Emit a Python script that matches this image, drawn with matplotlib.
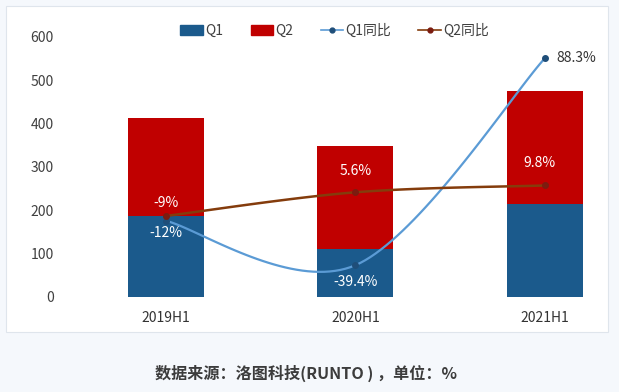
import numpy as np
import matplotlib
matplotlib.use('Agg')
import matplotlib.pyplot as plt
from matplotlib.patches import Rectangle, Patch
from matplotlib.lines import Line2D

plt.rcParams['font.family'] = ['Noto Sans CJK SC', 'DejaVu Sans']

categories = ['2019H1', '2020H1', '2021H1']
q1 = [188, 111, 215]
q2 = [225, 237, 260]
q1_yoy = [-12, -39.4, 88.3]
q2_yoy = [-9, 5.6, 9.8]
q1_yoy_labels = ['-12%', '-39.4%', '88.3%']
q2_yoy_labels = ['-9%', '5.6%', '9.8%']
caption = '数据来源：洛图科技(RUNTO ) ，单位：%'

c_q1 = '#1b5a8c'
c_q2 = '#c00000'
c_l1 = '#5b9bd5'
c_m1 = '#1f4e79'
c_l2 = '#843c0c'
c_m2 = '#7b1c10'

W, H = 619, 392


def catmull(xs, ys, n=40):
    # excel-like smoothed line through the points
    p = np.column_stack([xs, ys]).astype(float)
    out = []
    for i in range(len(p) - 1):
        p0 = p[i - 1] if i > 0 else p[i]
        p3 = p[i + 2] if i + 2 < len(p) else p[i + 1]
        m0 = (p[i + 1] - p0) / 2
        m1 = (p3 - p[i]) / 2
        t = np.linspace(0, 1, n)[:, None]
        h00 = 2 * t**3 - 3 * t**2 + 1
        h10 = t**3 - 2 * t**2 + t
        h01 = -2 * t**3 + 3 * t**2
        h11 = t**3 - t**2
        out.append(h00 * p[i] + h10 * m0 + h01 * p[i + 1] + h11 * m1)
    out = np.vstack(out)
    return out[:, 0], out[:, 1]


fig = plt.figure(figsize=(W / 100, H / 100), dpi=100)
fig.patch.set_facecolor('#f5f8fc')
fig.patches.append(Rectangle((6 / W, 1 - 332 / H), 602 / W, 326 / H,
                             transform=fig.transFigure, facecolor='white',
                             edgecolor='#dfe5ec', lw=0.8, zorder=-10))

ax = fig.add_axes([60 / W, 1 - 297 / H, 540 / W, 260 / H])
ax.set_facecolor('none')
x = np.arange(len(categories))
ax.bar(x, q1, width=0.4, color=c_q1)
ax.bar(x, q2, width=0.4, bottom=q1, color=c_q2)
ax.set_xlim(-0.559, 2.291)
ax.set_ylim(0, 600)
ax.set_yticks(range(0, 601, 100))
ax.set_xticks(x)
ax.set_xticklabels(categories)
for s in ax.spines.values():
    s.set_visible(False)
ax.tick_params(axis='y', length=0, pad=4.5, labelsize=10, labelcolor='#404040')
ax.tick_params(axis='x', length=0, pad=10, labelsize=10, labelcolor='#333333')

ax2 = ax.twinx()
ax2.set_ylim(-59, 101.4)
ax2.axis('off')
sx, sy = catmull(x, q1_yoy)
ax2.plot(sx, sy, color=c_l1, lw=1.6, zorder=3)
ax2.plot(x, q1_yoy, 'o', color=c_m1, ms=4, zorder=4)
sx, sy = catmull(x, q2_yoy)
ax2.plot(sx, sy, color=c_l2, lw=1.8, zorder=3)
ax2.plot(x, q2_yoy, 'o', color=c_m2, ms=4, zorder=4)

q1_off = [(0, -9), (0, -12), (8, 0)]
q2_off = [(0, 9), (0, 15), (-4, 16)]
for i in range(len(categories)):
    if i == 2:
        ax2.annotate(q1_yoy_labels[i], (x[i], q1_yoy[i]), xytext=q1_off[i],
                     textcoords='offset points', ha='left', va='center',
                     fontsize=10, color='#333333')
    else:
        ax2.annotate(q1_yoy_labels[i], (x[i], q1_yoy[i]), xytext=q1_off[i],
                     textcoords='offset points', ha='center', va='center',
                     fontsize=10, color='white')
    ax2.annotate(q2_yoy_labels[i], (x[i], q2_yoy[i]), xytext=q2_off[i],
                 textcoords='offset points', ha='center', va='center',
                 fontsize=10, color='white')

handles = [Patch(color=c_q1), Patch(color=c_q2),
           Line2D([], [], color=c_l1, marker='o', ms=3.5, mfc=c_m1, mec=c_m1, lw=1.2),
           Line2D([], [], color=c_l2, marker='o', ms=3.5, mfc=c_m2, mec=c_m2, lw=1.2)]
fig.legend(handles, ['Q1', 'Q2', 'Q1同比', 'Q2同比'], ncol=4, loc='center',
           bbox_to_anchor=(334.5 / W, 1 - 31 / H), frameon=False, fontsize=10,
           handlelength=1.6, handletextpad=0.15, columnspacing=2.0,
           labelcolor='#404040')

fig.text(306 / W, 1 - 373 / H, caption, ha='center', va='center',
         fontsize=11.6, fontweight='bold', color='#3c3c3c')

fig.savefig('out.png', dpi=100, facecolor=fig.get_facecolor())
